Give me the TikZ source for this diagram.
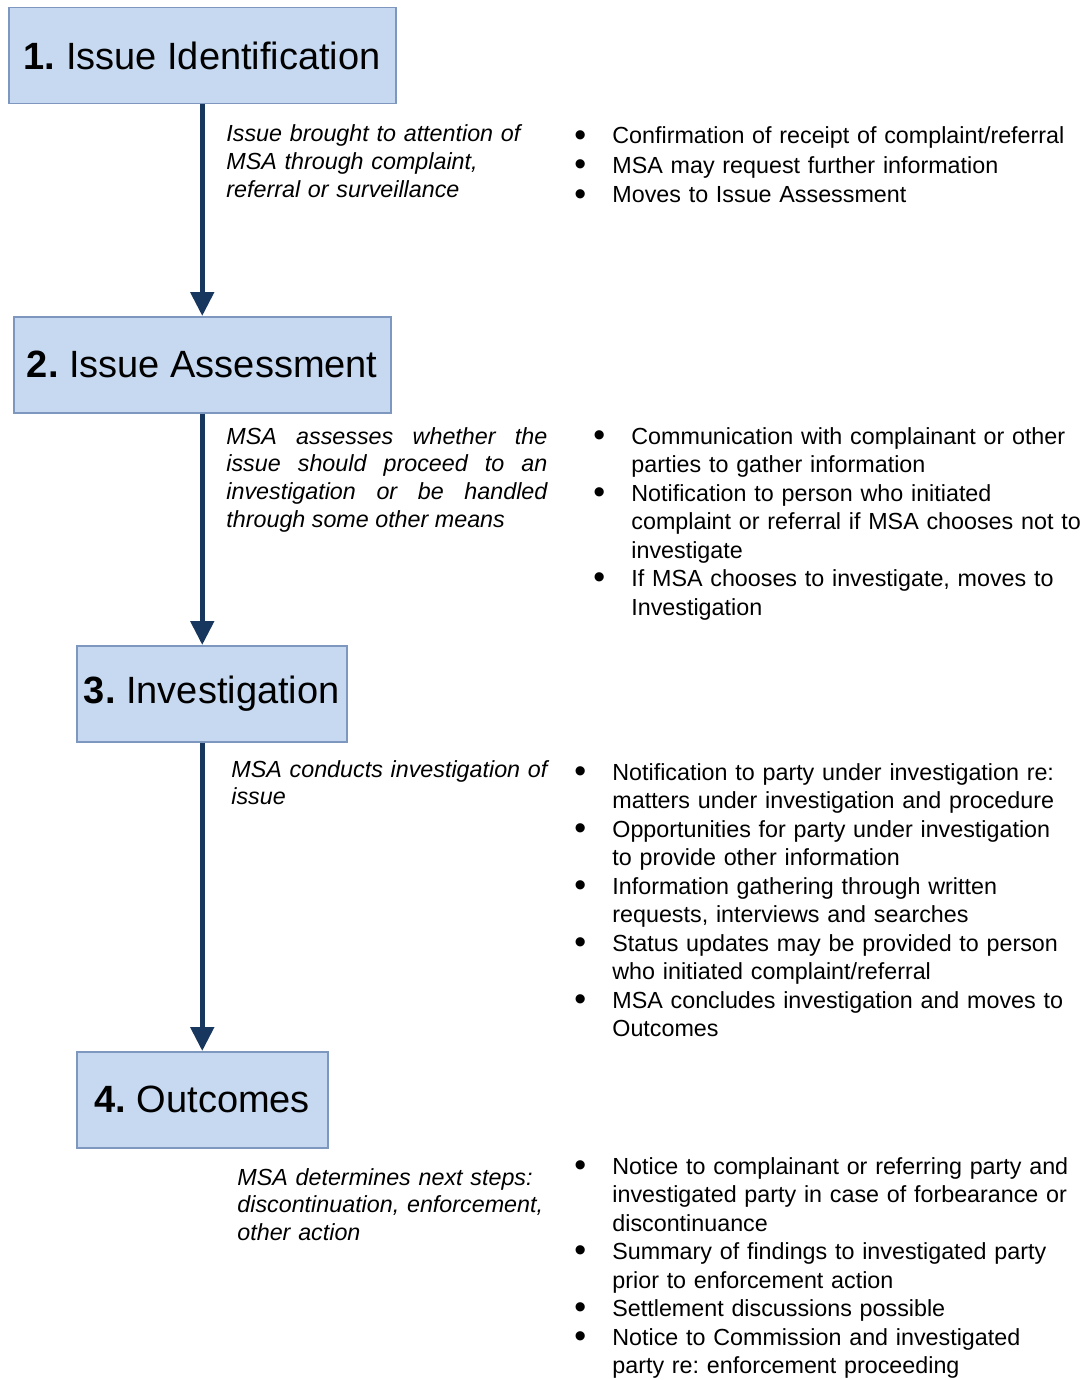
\documentclass[tikz,border=0pt]{standalone}
\usepackage{fontspec}
\setmainfont{Liberation Sans}
\usepackage{xcolor}
\usepackage{graphicx}
\usetikzlibrary{arrows.meta}
\definecolor{boxfill}{RGB}{198,217,241}
\definecolor{boxline}{RGB}{126,151,190}
\definecolor{flowblue}{RGB}{23,55,94}
\frenchspacing
\newcommand{\bitem}[1]{\hangindent=19pt\hangafter=1\noindent\makebox[19pt][l]{\raisebox{-1.2pt}{\scalebox{1.45}{\textbullet}}}#1\par}
\tikzset{
	stage/.style={
			draw=boxline, line width=0.75pt, fill=boxfill, anchor=north west,
			minimum height=48pt, inner sep=0pt, font=\fontsize{19}{23}\selectfont
		},
	note/.style={
			anchor=base west, inner sep=0pt, text width=165pt, align=left,
			font=\fontsize{11.65}{13.9}\selectfont\itshape
		},
	steps/.style={
			anchor=base west, inner sep=0pt, text width=265pt, align=left,
			font=\fontsize{11.65}{14.25}\selectfont
		},
	flow/.style={
			draw=flowblue, line width=2.5pt,
			-{Triangle[width=11.5pt,length=12pt]}
		}
}

\begin{document}
\begin{tikzpicture}[x=0.5pt,y=-0.5pt]
		\useasboundingbox (0,0) rectangle (1084,1380);

		% The four stages
		\node[stage, minimum width=193.5pt] (ident) at (8,7) {\textbf{1.} Issue Identification};
		\node[stage, minimum width=188.5pt] (assess) at (13,316) {\textbf{2.} Issue Assessment};
		\node[stage, minimum width=135pt] (invest) at (76,645) {\textbf{3.} Investigation};
		\node[stage, minimum width=125.5pt] (outcome) at (76,1051) {\textbf{4.} Outcomes};

		% Arrows between the stages
		\draw[flow] (ident.south) -- (ident.south |- assess.north);
		\draw[flow] (assess.south) -- (assess.south |- invest.north);
		\draw[flow] (invest.south -| outcome.north) -- (outcome.north);

		% What happens at each stage (italic)
		\node[note] (why1) at (226,142) {Issue brought to attention of\\MSA through complaint,\\referral or surveillance};
		\node[note, text width=160.5pt, align=justify] (why2) at (226,444) {MSA assesses whether the\linebreak issue should proceed to an\linebreak investigation or be handled\linebreak through some other means};
		\node[note] (why3) at (231,777) {MSA conducts investigation of\\issue};
		\node[note] (why4) at (237,1185) {MSA determines next steps:\\discontinuation, enforcement,\\other action};

		% Steps taken at each stage
		\node[steps, font=\fontsize{11.65}{14.75}\selectfont] (list1) at (574,144) {%
			\bitem{Confirmation of receipt of complaint/referral}
			\bitem{MSA may request further information}
			\bitem{Moves to Issue Assessment}};
		\node[steps] (list2) at (593,444) {%
			\bitem{Communication with complainant or other\newline parties to gather information}
			\bitem{Notification to person who initiated\newline complaint or referral if MSA chooses not to\newline investigate}
			\bitem{If MSA chooses to investigate, moves to\newline Investigation}};
		\node[steps] (list3) at (574,780) {%
			\bitem{Notification to party under investigation re:\newline matters under investigation and procedure}
			\bitem{Opportunities for party under investigation\newline to provide other information}
			\bitem{Information gathering through written\newline requests, interviews and searches}
			\bitem{Status updates may be provided to person\newline who initiated complaint/referral}
			\bitem{MSA concludes investigation and moves to\newline Outcomes}};
		\node[steps] (list4) at (574,1174) {%
			\bitem{Notice to complainant or referring party and\newline investigated party in case of forbearance or\newline discontinuance}
			\bitem{Summary of findings to investigated party\newline prior to enforcement action}
			\bitem{Settlement discussions possible}
			\bitem{Notice to Commission and investigated\newline party re: enforcement proceeding}};
	\end{tikzpicture}
\end{document}
